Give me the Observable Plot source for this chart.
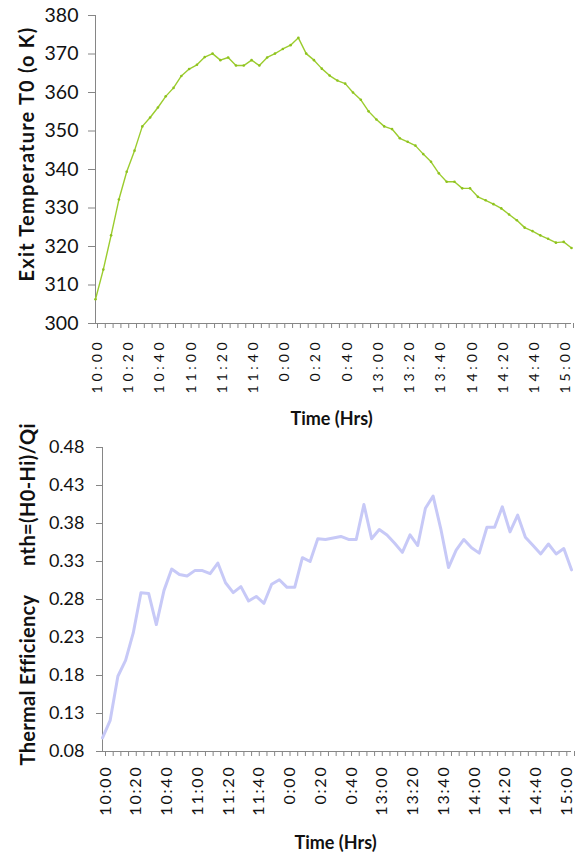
<!DOCTYPE html>
<html>
<head>
<meta charset="utf-8">
<script src="https://cdn.jsdelivr.net/npm/d3@7"></script>
<script src="https://cdn.jsdelivr.net/npm/@observablehq/plot@0.6"></script>
<style>
  body { margin: 0; background: #fff; }
  #charts { width: 576px; }
  #charts svg { display: block; }
  .temp-chart g[aria-label="x-axis tick label"] text { letter-spacing: 3.8px; }
  .eff-chart g[aria-label="x-axis tick label"] text { letter-spacing: 1.8px; }
</style>
</head>
<body>
<div id="charts"></div>
<script>
// Readings every 5 minutes (the 12 o'clock hour is logged as 0:xx)
const times = [
  "10:00","10:05","10:10","10:15","10:20","10:25","10:30","10:35","10:40","10:45","10:50","10:55",
  "11:00","11:05","11:10","11:15","11:20","11:25","11:30","11:35","11:40","11:45","11:50","11:55",
  "0:00","0:05","0:10","0:15","0:20","0:25","0:30","0:35","0:40","0:45","0:50","0:55",
  "13:00","13:05","13:10","13:15","13:20","13:25","13:30","13:35","13:40","13:45","13:50","13:55",
  "14:00","14:05","14:10","14:15","14:20","14:25","14:30","14:35","14:40","14:45","14:50","14:55",
  "15:00","15:05"
];
const tickLabels = ["10:00","10:20","10:40","11:00","11:20","11:40","0:00","0:20","0:40",
  "13:00","13:20","13:40","14:00","14:20","14:40","15:00"];

// Exit temperature T0 (K)
const exitTemp = [
  306.3, 314.0, 322.9, 332.2, 339.4, 344.9, 351.2, 353.5, 356.1, 359.0, 361.2, 364.3,
  366.1, 367.2, 369.2, 370.1, 368.4, 369.1, 367.0, 367.0, 368.4, 367.0, 369.1, 370.1,
  371.3, 372.3, 374.2, 370.1, 368.4, 366.2, 364.4, 363.1, 362.3, 360.0, 358.1, 355.1,
  353.0, 351.2, 350.5, 348.1, 347.2, 346.2, 344.0, 342.0, 339.0, 336.8, 336.8, 335.1,
  335.1, 332.9, 332.0, 331.0, 329.9, 328.3, 326.8, 324.9, 324.0, 322.9, 322.0, 321.0,
  321.2, 319.6
];

// Thermal efficiency nth = (H0 - Hi) / Qi
const efficiency = [
  0.098, 0.121, 0.179, 0.200, 0.236, 0.289, 0.288, 0.247, 0.292, 0.320, 0.313, 0.311,
  0.318, 0.318, 0.314, 0.328, 0.302, 0.289, 0.297, 0.278, 0.284, 0.275, 0.300, 0.306,
  0.296, 0.296, 0.335, 0.330, 0.360, 0.359, 0.361, 0.363, 0.359, 0.359, 0.405, 0.360,
  0.372, 0.365, 0.354, 0.342, 0.365, 0.351, 0.400, 0.416, 0.373, 0.322, 0.345, 0.359,
  0.348, 0.341, 0.375, 0.375, 0.402, 0.369, 0.391, 0.362, 0.351, 0.340, 0.353, 0.340,
  0.347, 0.319
];

const tempTicks = [300, 310, 320, 330, 340, 350, 360, 370, 380];
const effTicks = [0.08, 0.13, 0.18, 0.23, 0.28, 0.33, 0.38, 0.43, 0.48];

const font = "Lato, 'Open Sans', sans-serif";
const axisGray = "#868686";
const textColor = "#111";
const green = "#9bcc2e";
const lavender = "#c7c9f7";

const tempRows = times.map((t, i) => ({time: t, value: exitTemp[i]}));
const effRows = times.map((t, i) => ({time: t, value: efficiency[i]}));
const xFormat = d => tickLabels.includes(d) ? d : "";

const tempChart = Plot.plot({
  width: 576, height: 430,
  marginLeft: 95, marginRight: 5, marginTop: 15, marginBottom: 107,
  style: {fontFamily: font, background: "#fff", color: textColor, overflow: "visible"},
  x: {type: "point", domain: times, padding: 0},
  y: {domain: [300, 380]},
  marks: [
    Plot.axisY({ticks: tempTicks, tickSize: 7, tickPadding: 10, fontSize: 19.5,
      stroke: axisGray, fill: textColor, label: null}),
    Plot.axisX({ticks: times, tickSize: 5, tickPadding: 10, tickRotate: -90, fontSize: 14,
      tickFormat: xFormat, dx: 2, stroke: axisGray, fill: textColor, label: null}),
    Plot.ruleX([times[0]], {stroke: axisGray}),
    Plot.ruleY([300], {stroke: axisGray}),
    Plot.line(tempRows, {x: "time", y: "value", stroke: green, strokeWidth: 1.4}),
    Plot.dot(tempRows, {x: "time", y: "value", r: 1.3, fill: "#8fc21f"}),
    Plot.text(["Exit Temperature T0 (o K)"], {frameAnchor: "left", rotate: -90, dx: -68, dy: -15.5,
      textAnchor: "middle", fontSize: 20, fontWeight: "bold", fill: textColor}),
    Plot.text(["Time (Hrs)"], {frameAnchor: "bottom", dx: -2, dy: 101,
      textAnchor: "middle", fontSize: 18, fontWeight: "bold", fill: textColor})
  ]
});
tempChart.classList.add("temp-chart");

const effChart = Plot.plot({
  width: 576, height: 422,
  marginLeft: 102, marginRight: 5, marginTop: 17, marginBottom: 101,
  style: {fontFamily: font, background: "#fff", color: textColor, overflow: "visible"},
  x: {type: "point", domain: times, padding: 0},
  y: {domain: [0.08, 0.48]},
  marks: [
    Plot.axisY({ticks: effTicks, tickFormat: d3.format(".2f"), tickSize: 6, tickPadding: 12,
      fontSize: 18, stroke: axisGray, fill: textColor, label: null}),
    Plot.axisX({ticks: times, tickSize: 5, tickPadding: 9, tickRotate: -90, fontSize: 16,
      tickFormat: xFormat, dx: 3, stroke: axisGray, fill: textColor, label: null}),
    Plot.ruleX([times[0]], {stroke: axisGray}),
    Plot.ruleY([0.08], {stroke: axisGray}),
    Plot.line(effRows, {x: "time", y: "value", stroke: lavender, strokeWidth: 3}),
    Plot.text(["nth=(H0-Hi)/Qi"], {frameAnchor: "left", rotate: -90, dx: -74, dy: -105,
      textAnchor: "middle", fontSize: 20, fontWeight: "bold", fill: textColor}),
    Plot.text(["Thermal Efficiency"], {frameAnchor: "left", rotate: -90, dx: -74, dy: 80.5,
      textAnchor: "middle", fontSize: 20, fontWeight: "bold", fill: textColor}),
    Plot.text(["Time (Hrs)"], {frameAnchor: "bottom", dx: -1.5, dy: 97,
      textAnchor: "middle", fontSize: 18, fontWeight: "bold", fill: textColor})
  ]
});
effChart.classList.add("eff-chart");

// Title spacing tweaks
const spacing = {"Exit Temperature T0 (o K)": "1.2px", "Thermal Efficiency": "0.3px", "nth=(H0-Hi)/Qi": "0.4px"};
d3.selectAll([tempChart, effChart]).selectAll("text")
  .filter(function () { return spacing[this.textContent] !== undefined; })
  .style("letter-spacing", function () { return spacing[this.textContent]; });

document.getElementById("charts").append(tempChart, effChart);
</script>
</body>
</html>
